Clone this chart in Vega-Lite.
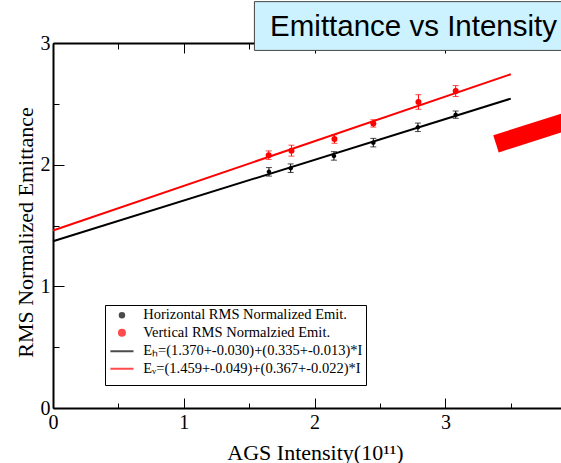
{
  "$schema": "https://vega.github.io/schema/vega-lite/v6.json",
  "autosize": "none",
  "width": 508,
  "height": 365,
  "padding": {"left": 53, "top": 43, "right": 0, "bottom": 55},
  "background": "white",
  "config": {"view": {"stroke": null}, "font": "Liberation Serif"},
  "title": {"text": "Emittance vs Intensity", "anchor": "end", "frame": "group", "font": "Liberation Sans", "fontSize": 29.5, "fontWeight": "normal", "color": "black", "baseline": "alphabetic", "offset": 8, "dx": -4, "dy": 72},
  "datasets": {
    "points": [
      {"series": "Horizontal RMS Normalized Emit.", "x": 1.651, "y": 1.941, "lo": 1.906, "hi": 1.976},
      {"series": "Horizontal RMS Normalized Emit.", "x": 1.817, "y": 1.971, "lo": 1.936, "hi": 2.006},
      {"series": "Horizontal RMS Normalized Emit.", "x": 2.148, "y": 2.072, "lo": 2.037, "hi": 2.107},
      {"series": "Horizontal RMS Normalized Emit.", "x": 2.449, "y": 2.181, "lo": 2.146, "hi": 2.216},
      {"series": "Horizontal RMS Normalized Emit.", "x": 2.790, "y": 2.307, "lo": 2.272, "hi": 2.342},
      {"series": "Horizontal RMS Normalized Emit.", "x": 3.079, "y": 2.411, "lo": 2.381, "hi": 2.441},
      {"series": "Vertical RMS Normalzied Emit.", "x": 1.649, "y": 2.078, "lo": 2.043, "hi": 2.113},
      {"series": "Vertical RMS Normalzied Emit.", "x": 1.823, "y": 2.115, "lo": 2.070, "hi": 2.160},
      {"series": "Vertical RMS Normalzied Emit.", "x": 2.152, "y": 2.211, "lo": 2.176, "hi": 2.246},
      {"series": "Vertical RMS Normalzied Emit.", "x": 2.449, "y": 2.339, "lo": 2.309, "hi": 2.369},
      {"series": "Vertical RMS Normalzied Emit.", "x": 2.794, "y": 2.515, "lo": 2.455, "hi": 2.575},
      {"series": "Vertical RMS Normalzied Emit.", "x": 3.079, "y": 2.605, "lo": 2.560, "hi": 2.650}
    ],
    "fits": [
      {"series": "Eₕ=(1.370+-0.030)+(0.335+-0.013)*I", "x": 0, "y": 1.370},
      {"series": "Eₕ=(1.370+-0.030)+(0.335+-0.013)*I", "x": 3.5, "y": 2.5425},
      {"series": "Eᵥ=(1.459+-0.049)+(0.367+-0.022)*I", "x": 0, "y": 1.459},
      {"series": "Eᵥ=(1.459+-0.049)+(0.367+-0.022)*I", "x": 3.5, "y": 2.7435}
    ],
    "box": [{"x": 1.54, "x2": 4.2, "y": 2.939, "y2": 3.34}],
    "slash": [{"x": 3.387, "y": 2.171, "x2": 4.18, "y2": 2.443}]
  },
  "layer": [
    {
      "data": {"name": "box"},
      "mark": {"type": "rect", "fill": "#CCF2FF", "stroke": "#444444", "strokeWidth": 1},
      "encoding": {
        "x": {"field": "x", "type": "quantitative", "scale": {"domain": [0, 3.884], "nice": false, "zero": false}, "axis": null},
        "x2": {"field": "x2"},
        "y": {"field": "y", "type": "quantitative", "scale": {"domain": [0, 3], "nice": false, "zero": false}, "axis": null},
        "y2": {"field": "y2"}
      }
    },
    {
      "data": {"name": "slash"},
      "mark": {"type": "rule", "color": "#FF0000", "strokeWidth": 18, "strokeCap": "butt"},
      "encoding": {
        "x": {"field": "x", "type": "quantitative", "axis": null},
        "x2": {"field": "x2"},
        "y": {"field": "y", "type": "quantitative", "axis": null},
        "y2": {"field": "y2"}
      }
    },
    {
      "data": {"name": "fits"},
      "mark": {"type": "line", "strokeWidth": 2},
      "encoding": {
        "x": {"field": "x", "type": "quantitative", "axis": {
          "orient": "bottom", "values": [0, 0.5, 1, 1.5, 2, 2.5, 3, 3.5], "grid": false,
          "tickSize": {"condition": {"test": "datum.value % 1 === 0", "value": -10}, "value": -5},
          "tickColor": "black", "tickWidth": 1, "domainColor": "black", "domainWidth": 2,
          "labelExpr": "datum.value % 1 === 0 ? format(datum.value, 'd') : ''",
          "labelFlush": false, "labelOverlap": false, "labelFont": "Liberation Serif", "labelFontSize": 20, "labelColor": "black", "labelPadding": 14,
          "title": "AGS Intensity(10¹¹)", "titleFont": "Liberation Serif", "titleFontSize": 22, "titleFontWeight": "normal", "titleColor": "black", "titleX": 262, "titlePadding": 5
        }},
        "y": {"field": "y", "type": "quantitative", "axis": {
          "orient": "left", "values": [0, 0.5, 1, 1.5, 2, 2.5, 3], "grid": false,
          "tickSize": {"condition": {"test": "datum.value % 1 === 0", "value": -11}, "value": -6},
          "tickColor": "black", "tickWidth": 1, "domainColor": "black", "domainWidth": 2,
          "labelExpr": "datum.value % 1 === 0 ? format(datum.value, 'd') : ''",
          "labelOverlap": false, "labelFont": "Liberation Serif", "labelFontSize": 20, "labelColor": "black", "labelPadding": 14,
          "title": "RMS Normalized Emittance", "titleFont": "Liberation Serif", "titleFontSize": 22, "titleFontWeight": "normal", "titleColor": "black", "titlePadding": 3, "titleY": 189
        }},
        "color": {"field": "series", "type": "nominal",
          "scale": {"domain": ["Horizontal RMS Normalized Emit.", "Vertical RMS Normalzied Emit.", "Eₕ=(1.370+-0.030)+(0.335+-0.013)*I", "Eᵥ=(1.459+-0.049)+(0.367+-0.022)*I"], "range": ["#000000", "#FF0000", "#000000", "#FF0000"]}}
      }
    },
    {
      "data": {"name": "points"},
      "mark": {"type": "rule", "strokeWidth": 1},
      "encoding": {
        "x": {"field": "x", "type": "quantitative", "axis": {
          "orient": "top", "values": [0, 0.5, 1, 1.5, 2, 2.5, 3, 3.5], "grid": false, "labels": false, "title": null,
          "tickSize": {"condition": {"test": "datum.value % 1 === 0", "value": -10}, "value": -6},
          "tickColor": "black", "tickWidth": 1, "domainColor": "black", "domainWidth": 2
        }},
        "y": {"field": "lo", "type": "quantitative", "axis": null},
        "y2": {"field": "hi"},
        "color": {"field": "series", "type": "nominal"}
      }
    },
    {
      "data": {"name": "points"},
      "transform": [{"fold": ["lo", "hi"], "as": ["end", "yv"]}],
      "mark": {"type": "point", "shape": "stroke", "size": 36, "strokeWidth": 1, "filled": false},
      "encoding": {
        "x": {"field": "x", "type": "quantitative", "axis": null},
        "y": {"field": "yv", "type": "quantitative", "axis": null},
        "color": {"field": "series", "type": "nominal"}
      }
    },
    {
      "data": {"name": "points"},
      "mark": {"type": "point", "filled": true, "size": 36, "opacity": 1},
      "encoding": {
        "x": {"field": "x", "type": "quantitative", "axis": null},
        "y": {"field": "y", "type": "quantitative", "axis": null},
        "color": {"field": "series", "type": "nominal", "legend": {
          "orient": "none", "legendX": 52, "legendY": 262, "title": " ", "titleOrient": "bottom", "titleFontSize": 7, "titlePadding": 0, "strokeColor": "black", "fillColor": "white", "padding": 3,
          "labelFont": "Liberation Serif", "labelFontSize": 14.5, "labelColor": "black", "labelLimit": 0, "symbolSize": 36, "rowPadding": 2.5,
          "symbolOffset": 6.7, "labelOffset": 14, "symbolStrokeWidth": 2,
          "encode": {"symbols": {"update": {"fill": {"scale": "color", "field": "value"}, "stroke": {"scale": "color", "field": "value"}, "strokeWidth": [{"test": "indexof(datum.value, 'Emit') >= 0", "value": 0}, {"value": 2}], "opacity": {"value": 1}}}}
        }},
        "shape": {"field": "series", "type": "nominal",
          "scale": {"domain": ["Horizontal RMS Normalized Emit.", "Vertical RMS Normalzied Emit.", "Eₕ=(1.370+-0.030)+(0.335+-0.013)*I", "Eᵥ=(1.459+-0.049)+(0.367+-0.022)*I"],
            "range": ["M0.75,0A0.75,0.75 0 1,1 -0.75,0A0.75,0.75 0 1,1 0.75,0Z", "circle", "M-3.85,0H3.85", "M-3.85,0H3.85"]},
          "legend": {
          "orient": "none", "legendX": 52, "legendY": 262, "title": " ", "titleOrient": "bottom", "titleFontSize": 7, "titlePadding": 0, "strokeColor": "black", "fillColor": "white", "padding": 3,
          "labelFont": "Liberation Serif", "labelFontSize": 14.5, "labelColor": "black", "labelLimit": 0, "symbolSize": 36, "rowPadding": 2.5,
          "symbolOffset": 6.7, "labelOffset": 14, "symbolStrokeWidth": 2,
          "encode": {"symbols": {"update": {"fill": {"scale": "color", "field": "value"}, "stroke": {"scale": "color", "field": "value"}, "strokeWidth": [{"test": "indexof(datum.value, 'Emit') >= 0", "value": 0}, {"value": 2}], "opacity": {"value": 1}}}}
        }}
      }
    }
  ],
  "resolve": {"axis": {"x": "independent", "y": "independent"}}
}
